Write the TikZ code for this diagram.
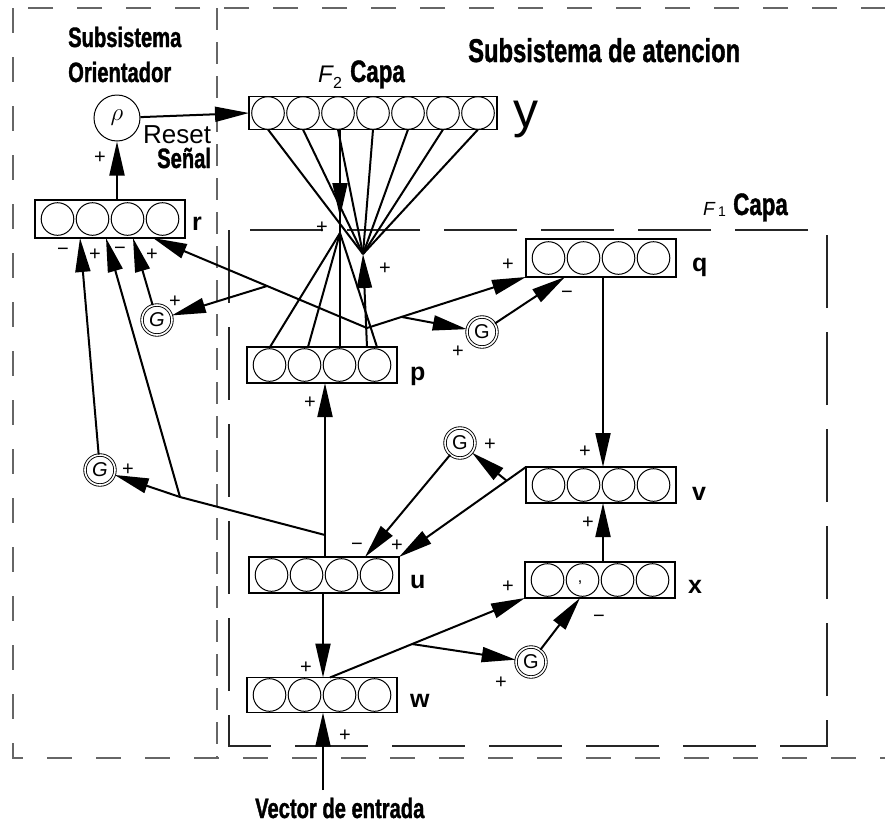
\documentclass[tikz,border=0pt]{standalone}
\usepackage{fontspec}
\setmainfont{Liberation Sans}
\newfontfamily\cond[FakeStretch=0.72,FakeBold=1.2]{Liberation Sans Bold}
\usetikzlibrary{arrows.meta,calc}
\newcommand\mylayer[6]{% name, cx, cy, n, width, height
  \node[layerbox,minimum width=#5pt,minimum height=#6pt] (#1) at (#2,#3) {};
  \foreach \k in {1,...,#4}
    \draw[line width=1pt] ($(#1.west)+({(#5-35*#4)/2+17.5+35*(\k-1)},0)$) circle[radius=16.3pt];
}
\begin{document}
\begin{tikzpicture}[x=1pt,y=-1pt,
  arr/.style={line width=2pt,-{Triangle[length=34pt,width=15pt]}},
  conn/.style={line width=2pt},
  layerbox/.style={draw,line width=1.1pt,inner sep=0pt,outer sep=0pt},
  gbox/.style={circle,draw,double,double distance=1.6pt,line width=0.9pt,minimum size=30pt,inner sep=0pt,font=\fontsize{20}{20}\selectfont},
  sign/.style={font=\fontsize{20}{20}\selectfont,inner sep=0pt},
  lbl/.style={font=\bfseries\fontsize{25}{25}\selectfont,anchor=base west,inner sep=0pt},
  head/.style={anchor=base west,inner sep=0pt,font=\cond\fontsize{28}{28}\selectfont},
  outerdash/.style={draw=black!60,line width=2pt,dash pattern=on 25pt off 24pt},
  divdash/.style={draw=black!60,line width=1.6pt,dash pattern=on 22pt off 12pt},
  innerdash/.style={draw=black!85,line width=1.4pt,dash pattern=on 73pt off 24pt},
  ]
\clip (0,0) rectangle (885,825);
\fill[white] (0,0) rectangle (885,825);

% frames
\draw[outerdash] (13,8) rectangle (900,758);
\draw[divdash] (217,8) -- (217,758);
\draw[innerdash] (229,230) rectangle (827,746);

% headings
\node[head] (t1) at (68,47) {Subsistema};
\node[head] (t2) at (68,82) {Orientador};
\node[head,font=\cond\fontsize{33}{33}\selectfont] (t3) at (468,62) {Subsistema de atencion};
\node[anchor=base west,inner sep=0pt,font=\itshape\fontsize{24}{24}\selectfont] (f2F) at (318,82) {F};
\node[anchor=base west,inner sep=0pt,font=\fontsize{16}{16}\selectfont] (f2s) at (333,88) {2};
\node[head,font=\cond\fontsize{31}{31}\selectfont] (f2c) at (350,82) {Capa};
\node[anchor=base west,inner sep=0pt,font=\itshape\fontsize{19}{19}\selectfont] (f1F) at (703,215) {F};
\node[anchor=base west,inner sep=0pt,font=\fontsize{14}{14}\selectfont] (f1s) at (718,216) {1};
\node[head,font=\cond\fontsize{31}{31}\selectfont] (f1c) at (733,215) {Capa};
\node[anchor=base west,inner sep=0pt,font=\fontsize{26}{26}\selectfont] (reset) at (143,143) {Reset};
\node[head] (senal) at (157,168) {Señal};
\node[anchor=base west,inner sep=0pt,font=\fontsize{50}{50}\selectfont] (ylab) at (513,127) {y};
\node[head] (vec) at (255,818) {Vector de entrada};

% layers
\mylayer{F2}{373}{113}{7}{248}{33}
\mylayer{r}{110}{219}{4}{150}{38}
\mylayer{p}{322}{365}{4}{150}{36}
\mylayer{q}{601}{258}{4}{150}{38}
\mylayer{v}{601}{485}{4}{150}{36}
\mylayer{u}{324}{575}{4}{150}{36}
\mylayer{x}{600}{580}{4}{150}{36}
\mylayer{w}{322}{695}{4}{150}{35}

\node[lbl] (lr) at (192,230) {r};
\node[lbl] (lp) at (410,380) {p};
\node[lbl] (lq) at (692,271) {q};
\node[lbl] (lv) at (692,500) {v};
\node[lbl] (lu) at (410,588) {u};
\node[lbl] (lx) at (688,593) {x};
\node[lbl] (lw) at (410,707) {w};
\node[inner sep=0pt,font=\fontsize{16}{16}\selectfont] (cm) at (580,583) {,};

% gain / reset units
\node[circle,draw,line width=1pt,minimum size=46pt,inner sep=0pt] (rho) at (117,118) {\fontsize{26}{26}\selectfont$\rho$};
\node[gbox] (G1) at (157,320) {\itshape G};
\node[gbox] (G2) at (100,470) {\itshape G};
\node[gbox] (G3) at (482,332) {G};
\node[gbox] (G4) at (460,443) {G};
\node[gbox] (G5) at (531,662) {G};

% junction points
\coordinate (td) at (340,233);
\coordinate (tdtip) at (340,217);
\coordinate (bu) at (363,254);
\coordinate (pb) at (367,328);
\coordinate (b1) at (267,286);
\coordinate (b3) at (402,317);
\coordinate (ua) at (325,535);
\coordinate (ub) at (180,497);
\coordinate (vb) at (507,481);
\coordinate (wb) at (412,644);
\coordinate (inp) at (323,790);

% reset path
\draw[arr] (rho) -- (F2.west);
\draw[arr] (rho.south |- r.north) -- (rho.south);

% F2 <-> p
\draw[conn] (F2.south -| tdtip) -- (td);
\draw[arr] (F2.south -| tdtip) -- (tdtip);
\foreach \dx in {23,61,93,130} \draw[conn] (td) -- ($(p.north west)+(\dx,0)$);
\foreach \k in {0,...,6} \draw[conn] (bu) -- ($(F2.south west)+(19+35*\k,0)$);
\draw[arr] ($(p.north west)+(120,0)$) -- (bu);

% p outputs
\draw[arr] (pb) -- ($(r.south west)+(118,0)$);
\draw[arr] (b1) -- (G1);
\draw[arr] (G1) -- ($(r.south west)+(98,0)$);
\draw[arr] (pb) -- (q.south west);
\draw[arr] (b3) -- (G3);
\draw[arr] (G3) -- ($(q.south west)+(39,0)$);

% q, x -> v
\draw[arr] ($(q.south)+(2,0)$) -- ($(v.north)+(2,0)$);
\draw[arr] ($(x.north)+(3,0)$) -- ($(v.south)+(2,0)$);

% v -> u
\draw[arr] (v.north west) -- (u.north east);
\draw[arr] (vb) -- (G4);
\draw[arr] (G4) -- ($(u.north west)+(116,0)$);

% u outputs
\draw[arr] ($(u.north)+(1,0)$) -- ($(p.south)+(3,0)$);
\draw[conn] (ua) -- (ub);
\draw[arr] (ub) -- (G2);
\draw[arr] (ub) -- ($(r.south west)+(71,0)$);
\draw[arr] (G2) -- ($(r.south west)+(45,0)$);
\draw[arr] ($(u.south)+(-1,0)$) -- ($(w.north)+(1,0)$);

% input and w outputs
\draw[arr] (inp) -- ($(w.south)+(1,0)$);
\draw[arr] ($(w.north)+(8,0)$) -- (x.south west);
\draw[arr] (wb) -- (G5);
\draw[arr] (G5) -- ($(x.south west)+(55,0)$);

% signs
\node[sign] (s1) at (100,158) {+};
\node[sign] (s2) at (322,228) {+};
\node[sign] (s3) at (385,269) {+};
\node[sign] (s4) at (63,252) {−};
\node[sign] (s5) at (95,255) {+};
\node[sign] (s6) at (120,251) {−};
\node[sign] (s7) at (152,255) {+};
\node[sign] (s8) at (175,302) {+};
\node[sign] (s9) at (128,470) {+};
\node[sign] (s10) at (310,403) {+};
\node[sign] (s11) at (508,265) {+};
\node[sign] (s12) at (567,295) {−};
\node[sign] (s13) at (458,352) {+};
\node[sign] (s14) at (585,452) {+};
\node[sign] (s15) at (588,523) {+};
\node[sign] (s16) at (490,445) {+};
\node[sign] (s17) at (357,547) {−};
\node[sign] (s18) at (397,546) {+};
\node[sign] (s19) at (508,587) {+};
\node[sign] (s20) at (599,619) {−};
\node[sign] (s21) at (501,683) {+};
\node[sign] (s22) at (306,668) {+};
\node[sign] (s23) at (345,736) {+};
\end{tikzpicture}
\end{document}
